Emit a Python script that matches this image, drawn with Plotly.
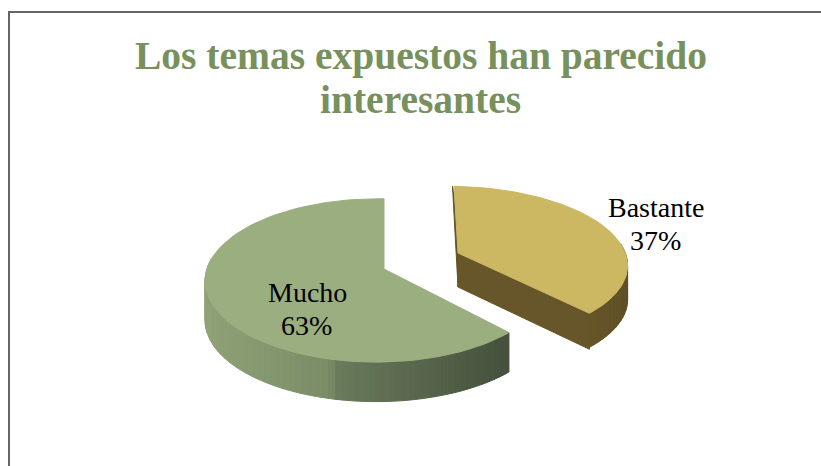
import math
import plotly.graph_objects as go

TITLE_LINES = ["Los temas expuestos han parecido", "interesantes"]
categories = ["Bastante", "Mucho"]
percent_values = [37, 63]

W, H = 821, 466
P, Q, WARP = 0.14, 0.04, 0.07

# projection parameters per slice: apex position, radii, depth of the side, skew
slice_style = {
    "Bastante": dict(cx=458, cy=253, rx=174, ry=76, h=34, skew=0.06, top="#ccb862", wall="#665629",
                     side=[(0.0, "#6e5c2c"), (0.7, "#6a582a"), (1.0, "#5f4f26")]),
    "Mucho": dict(cx=384, cy=269, rx=170, ry=80, h=39.5, skew=0.0, top="#9bae80", wall="#46543c",
                  side=[(0.0, "#8fa277"), (0.42, "#7a8c66"), (0.44, "#6a7b5c"), (1.0, "#45513c")]),
}


def project(s, theta, drop=0.0):
    t = theta - WARP * math.sin(2 * theta)
    w = 1 + P * math.cos(t) + Q * math.sin(t)
    vx = s["rx"] * math.sin(t) / w
    vy = s["ry"] * math.cos(t) / w
    return s["cx"] + vx - s["skew"] * vy, s["cy"] - vy + drop


def mix(stops, t):
    for (a, ca), (b, cb) in zip(stops, stops[1:]):
        if t <= b:
            f = (t - a) / (b - a) if b > a else 0
            c = [round(int(ca[i:i + 2], 16) * (1 - f) + int(cb[i:i + 2], 16) * f) for i in (1, 3, 5)]
            return "rgb(%d,%d,%d)" % tuple(c)
    return stops[-1][1]


def poly(fig, pts, color):
    xs = [p[0] for p in pts] + [pts[0][0]]
    ys = [p[1] for p in pts] + [pts[0][1]]
    fig.add_trace(go.Scatter(x=xs, y=ys, mode="lines", fill="toself", fillcolor=color,
                             line=dict(color=color, width=1), hoverinfo="skip", showlegend=False))


fig = go.Figure()
total = sum(percent_values)
start = 0.0
for name, val in zip(categories, percent_values):
    s = slice_style[name]
    a0 = start
    a1 = start + val / total * 2 * math.pi
    start = a1
    n = max(24, int(val * 1.6))
    arc = [a0 + (a1 - a0) * i / n for i in range(n + 1)]
    if name == "Bastante":
        rim = project(s, a0)
        poly(fig, [(rim[0] - 1.5, rim[1]), (s["cx"] - 1.5, s["cy"]), (s["cx"], s["cy"] + s["h"]),
                   (s["cx"] + 4, s["cy"])], "#5f5228")
        end_top = project(s, a1)
        end_bot = project(s, a1, s["h"] + 2)
        poly(fig, [(s["cx"], s["cy"]), end_top, end_bot, (s["cx"], s["cy"] + s["h"])], s["wall"])
    x_lo = min(project(s, t)[0] for t in arc)
    x_hi = max(project(s, t)[0] for t in arc)
    for i in range(n):
        t0, t1 = arc[i], arc[i + 1]
        if math.cos((t0 + t1) / 2) > 0.12:
            continue
        p0, p1 = project(s, t0), project(s, t1)
        q0, q1 = project(s, t1, s["h"]), project(s, t0, s["h"])
        frac = (p0[0] - x_lo) / (x_hi - x_lo)
        poly(fig, [p0, p1, q0, q1], mix(s["side"], frac))
    poly(fig, [(s["cx"], s["cy"])] + [project(s, t) for t in arc], s["top"])


def text(x, y, label, size, color, bold=False):
    return dict(x=x, y=y, text=label, xref="x", yref="y", showarrow=False, xanchor="center", yanchor="middle",
                font=dict(family="Liberation Serif", size=size, color=color, weight="bold" if bold else "normal"))


annotations = [
    text(421, 56, TITLE_LINES[0], 39.5, "#77905c", True),
    text(420, 100, TITLE_LINES[1], 39.5, "#77905c", True),
    text(307, 292, categories[1], 28, "#000000"),
    text(306, 325, f"{percent_values[1]}%", 28, "#000000"),
    text(656, 207, categories[0], 28, "#000000"),
    text(655, 240, f"{percent_values[0]}%", 28, "#000000"),
]

fig.update_layout(
    width=W, height=H, margin=dict(l=0, r=0, t=0, b=0),
    paper_bgcolor="#ffffff", plot_bgcolor="#ffffff", showlegend=False,
    xaxis=dict(range=[0, W], visible=False, fixedrange=True),
    yaxis=dict(range=[H, 0], visible=False, fixedrange=True),
    annotations=annotations,
    shapes=[dict(type="rect", xref="x", yref="y", x0=9, y0=12, x1=W + 5, y1=H + 5,
                 line=dict(color="#666666", width=2))],
)
fig.write_html("out.html", post_script="document.body.style.margin='0';document.body.style.overflow='hidden';",
               config=dict(displayModeBar=False))
